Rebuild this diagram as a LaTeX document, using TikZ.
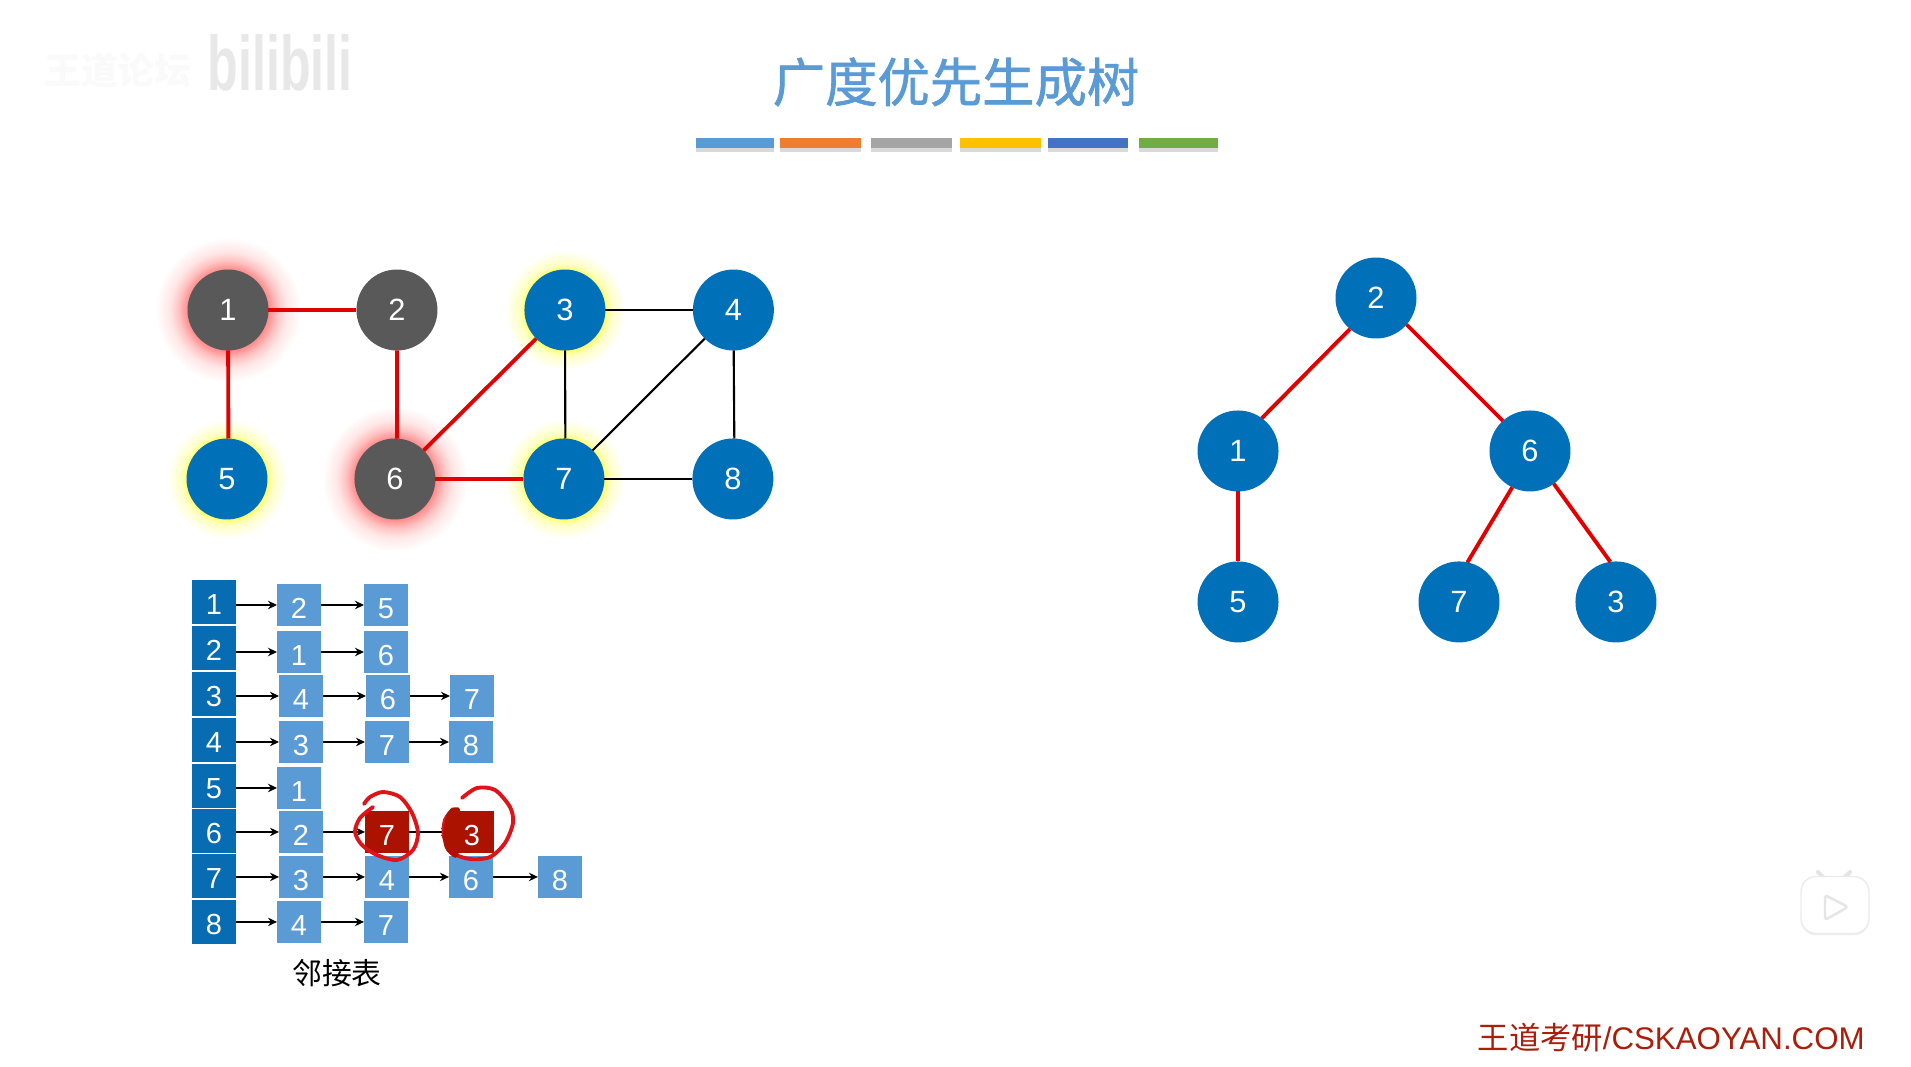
\documentclass[tikz,border=0pt]{standalone}
\usepackage{fontspec}
\setmainfont{Liberation Sans}
\newfontfamily\cjk{Noto Sans CJK SC}
\newfontfamily\cjktitle[FakeBold=1.3]{Noto Sans CJK SC}
\usetikzlibrary{arrows.meta, positioning, backgrounds, shadows}
\definecolor{bfsblue}{RGB}{0, 112, 184}
\definecolor{bfsgray}{RGB}{89, 89, 89}
\definecolor{bfsred}{RGB}{226, 0, 0}
\definecolor{cellblue}{RGB}{91, 155, 213}
\definecolor{headblue}{RGB}{8, 108, 178}
\definecolor{cellred}{RGB}{172, 18, 0}
\definecolor{inkred}{RGB}{222, 20, 24}
\definecolor{footred}{RGB}{170, 30, 10}
\definecolor{barorange}{RGB}{237, 125, 49}
\definecolor{bargray}{RGB}{165, 165, 165}
\definecolor{baryellow}{RGB}{255, 192, 0}
\definecolor{barblue}{RGB}{68, 114, 196}
\definecolor{bargreen}{RGB}{112, 173, 71}
\pgfdeclareradialshading{redglow}{\pgfpointorigin}{color(0bp)=(red!45); color(14bp)=(red!45); color(17bp)=(red!24); color(20bp)=(red!10); color(25bp)=(white)}
\pgfdeclareradialshading{yellowglow}{\pgfpointorigin}{color(0bp)=(yellow!60); color(16.7bp)=(yellow!60); color(19bp)=(yellow!24); color(25bp)=(white)}

\begin{document}
\begin{tikzpicture}[
        x=0.02cm, y=-0.02cm, on grid,
        vertex/.style={circle, fill=bfsblue, text=white, minimum size=1.62cm, inner sep=0pt, outer sep=0pt, font=\fontsize{17.5}{20}\selectfont},
        visited/.style={vertex, fill=bfsgray},
        hotglow/.style={circle, minimum size=2.9cm, shading=redglow},
        newglow/.style={circle, minimum size=2.4cm, shading=yellowglow},
        head/.style={rectangle, fill=headblue, text=white, minimum width=0.88cm, minimum height=0.87cm, inner sep=0pt, outer sep=0pt, text height=0.5cm, text depth=0cm, font=\fontsize{16.5}{18}\selectfont},
        cell/.style={rectangle, fill=cellblue, text=white, minimum width=0.88cm, minimum height=0.84cm, inner sep=0pt, outer sep=0pt, text height=0.55cm, text depth=0cm, font=\fontsize{16.5}{18}\selectfont},
        redcell/.style={cell, fill=cellred},
        bar/.style={rectangle, minimum height=0.2cm, inner sep=0pt, drop shadow={opacity=0.3, shadow xshift=0cm, shadow yshift=-0.08cm}},
        treeedge/.style={bfsred, line width=2.2pt},
        plainedge/.style={black, line width=1.2pt},
        arr/.style={->, >={Stealth[length=0.18cm, width=0.17cm]}, line width=0.7pt},
        ink/.style={inkred, line width=2.2pt, line cap=round, line join=round}
    ]
        \useasboundingbox (0,0) rectangle (1911,1067);

        % Titre et barres
        \node[font=\cjktitle\fontsize{29.8}{32}\selectfont, text=cellblue] (title) at (956,82) {广度优先生成树};
        \node[bar, fill=cellblue, minimum width=1.58cm] (bar1) at (735,143) {};
        \node[bar, fill=barorange, minimum width=1.62cm, right=1.72cm of bar1] (bar2) {};
        \node[bar, fill=bargray, minimum width=1.62cm, right=1.81cm of bar2] (bar3) {};
        \node[bar, fill=baryellow, minimum width=1.62cm, right=1.78cm of bar3] (bar4) {};
        \node[bar, fill=barblue, minimum width=1.6cm, right=1.75cm of bar4] (bar5) {};
        \node[bar, fill=bargreen, minimum width=1.58cm, right=1.82cm of bar5] (bar6) {};

        % Graphe
        \node[visited] (g1) at (228,310) {1};
        \node[visited, right=3.38cm of g1] (g2) {2};
        \node[vertex, right=3.36cm of g2] (g3) {3};
        \node[vertex, right=3.37cm of g3] (g4) {4};
        \node[vertex, below=3.38cm of g1, xshift=-0.02cm] (g5) {5};
        \node[visited, right=3.36cm of g5] (g6) {6};
        \node[vertex, right=3.38cm of g6] (g7) {7};
        \node[vertex, right=3.38cm of g7] (g8) {8};

        \begin{scope}[on background layer]
            \node[hotglow] (glow1) at (g1) {};
            \node[hotglow] (glow6) at (g6) {};
            \node[newglow] (glow3) at (g3) {};
            \node[newglow] (glow5) at (g5) {};
            \node[newglow] (glow7) at (g7) {};
        \end{scope}

        \draw[plainedge] (g3) -- (g4);
        \draw[plainedge] (g3) -- (g7.88);
        \draw[plainedge] (g4) -- (g7);
        \draw[plainedge] (g4) -- (g8.88);
        \draw[plainedge] (g7) -- (g8);
        \draw[treeedge] (g1) -- (g2);
        \draw[treeedge] (g1) -- (g5.88);
        \draw[treeedge] (g2) -- (g6.87);
        \draw[treeedge] (g6) -- (g3);
        \draw[treeedge] (g6) -- (g7);

        % Arbre
        \node[vertex] (t2) at (1376,298) {2};
        \node[vertex, below left=3.06cm and 2.76cm of t2] (t1) {1};
        \node[vertex, below right=3.06cm and 3.08cm of t2] (t6) {6};
        \node[vertex, below=3.02cm of t1] (t5) {5};
        \node[vertex, below left=3.02cm and 1.42cm of t6] (t7) {7};
        \node[vertex, below right=3.02cm and 1.72cm of t6] (t3) {3};

        \draw[treeedge] (t2.230) -- (t1.54);
        \draw[treeedge] (t2.-41) -- (t6.132);
        \draw[treeedge] (t1) -- (t5);
        \draw[treeedge] (t6.244) -- (t7.78);
        \draw[treeedge] (t6.-54) -- (t3.98);

        % Table des sommets
        \node[head] (h1) at (214,602) {1};
        \node[head, below=0.92cm of h1] (h2) {2};
        \node[head, below=0.92cm of h2] (h3) {3};
        \node[head, below=0.92cm of h3] (h4) {4};
        \node[head, below=0.92cm of h4] (h5) {5};
        \node[head, below=0.9cm of h5] (h6) {6};
        \node[head, below=0.9cm of h6] (h7) {7};
        \node[head, below=0.92cm of h7] (h8) {8};

        % Listes
        \node[cell, below right=0.06cm and 1.7cm of h1] (a11) {2};
        \node[cell, right=1.74cm of a11] (a12) {5};
        \node[cell, below right=0.08cm and 1.7cm of h2] (a21) {1};
        \node[cell, right=1.74cm of a21] (a22) {6};
        \node[cell, below right=0.04cm and 1.74cm of h3] (a31) {4};
        \node[cell, right=1.74cm of a31] (a32) {6};
        \node[cell, right=1.68cm of a32] (a33) {7};
        \node[cell, below right=0.04cm and 1.74cm of h4] (a41) {3};
        \node[cell, right=1.72cm of a41] (a42) {7};
        \node[cell, right=1.68cm of a42] (a43) {8};
        \node[cell, below right=0.04cm and 1.7cm of h5] (a51) {1};
        \node[cell, below right=0.02cm and 1.74cm of h6] (a61) {2};
        \node[redcell, right=1.72cm of a61] (a62) {7};
        \node[redcell, right=1.7cm of a62] (a63) {3};
        \node[cell, below right=0.02cm and 1.74cm of h7] (a71) {3};
        \node[cell, right=1.72cm of a71] (a72) {4};
        \node[cell, right=1.68cm of a72] (a73) {6};
        \node[cell, right=1.78cm of a73] (a74) {8};
        \node[cell, right=1.7cm of h8] (a81) {4};
        \node[cell, right=1.74cm of a81] (a82) {7};

        \draw[arr] (a11 -| h1.east) -- (a11);
        \draw[arr] (a11) -- (a12);
        \draw[arr] (a21 -| h2.east) -- (a21);
        \draw[arr] (a21) -- (a22);
        \draw[arr] (a31 -| h3.east) -- (a31);
        \draw[arr] (a31) -- (a32);
        \draw[arr] (a32) -- (a33);
        \draw[arr] (a41 -| h4.east) -- (a41);
        \draw[arr] (a41) -- (a42);
        \draw[arr] (a42) -- (a43);
        \draw[arr] (a51 -| h5.east) -- (a51);
        \draw[arr] (a61 -| h6.east) -- (a61);
        \draw[arr] (a61) -- (a62);
        \draw[arr] (a62) -- (a63);
        \draw[arr] (a71 -| h7.east) -- (a71);
        \draw[arr] (a71) -- (a72);
        \draw[arr] (a72) -- (a73);
        \draw[arr] (a73) -- (a74);
        \draw[arr] (a81 -| h8.east) -- (a81);
        \draw[arr] (a81) -- (a82);

        \node[below=1.02cm of a81, xshift=0.76cm, font=\cjk\fontsize{17}{18}\selectfont] (adjlabel) {邻接表};

        % Traits rouges a la main
        \draw[ink] plot[smooth] coordinates {(364,804) (370,797) (383,792) (400,797) (412,813) (418,833) (413,850) (397,860) (377,855) (362,845) (355,832) (360,818) (373,807)};
        \draw[ink] plot[smooth] coordinates {(462,798) (477,788) (495,790) (510,807) (513,823) (505,843) (490,857) (470,859) (453,853) (444,837) (445,820) (453,809)};
        \fill[cellred] plot[smooth cycle] coordinates {(448,812) (460,810) (458,856) (446,850) (443,835)};

        % Logos
        \node[font=\cjk\bfseries\fontsize{21}{24}\selectfont, text=black!2] (forum) at (118,71) {王道论坛};
        \node[font=\bfseries\fontsize{44}{48}\selectfont, text=black!9] (bili) at (280,63) {\scalebox{0.65}[1]{bilibili}};
        \node[rectangle, rounded corners=0.3cm, fill=white, draw=black!8, line width=0.8pt, minimum width=1.36cm, minimum height=1.14cm, inner sep=0pt, drop shadow={opacity=0.12, shadow xshift=0cm, shadow yshift=-0.04cm}] (tv) at (1835,905) {};
        \begin{scope}[on background layer]
            \draw[black!10, line width=2.4pt, line cap=round] (1818,872) -- (1828,882);
            \draw[black!10, line width=2.4pt, line cap=round] (1850,872) -- (1840,882);
        \end{scope}
        \draw[black!10, fill=white, line width=1.4pt, rounded corners=0.06cm] (1825,895) -- (1848,907) -- (1825,920) -- cycle;
        \node[anchor=east, inner sep=0pt, text=footred, font=\fontsize{17.8}{20}\selectfont] (foot) at (1865,1038) {{\cjk 王道考研}/CSKAOYAN.COM};
    \end{tikzpicture}
\end{document}
